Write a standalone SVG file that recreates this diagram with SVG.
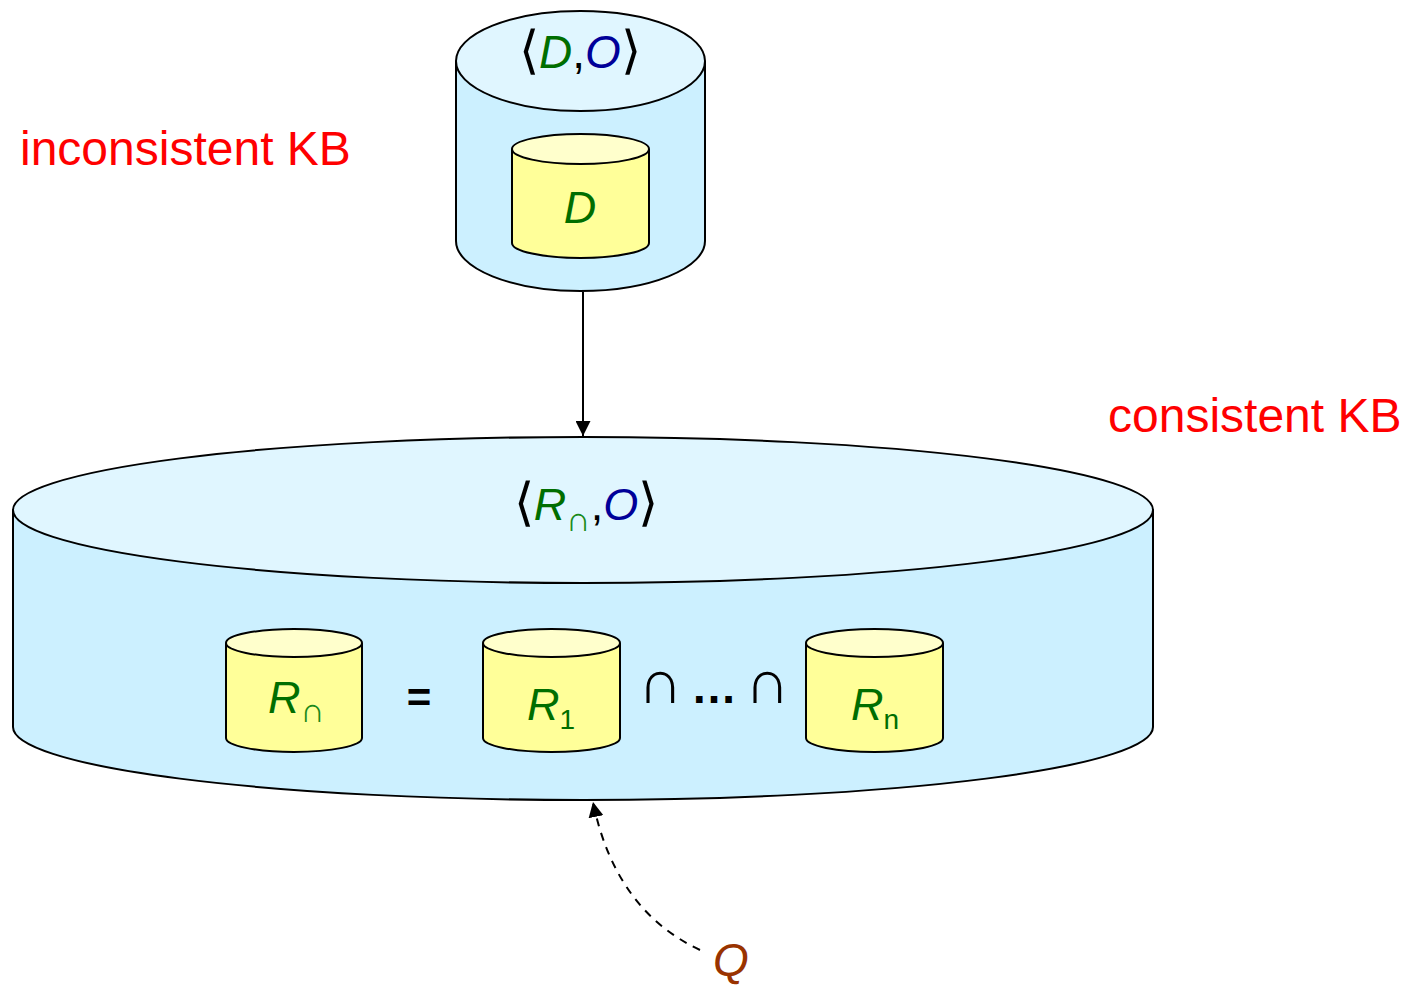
<svg xmlns="http://www.w3.org/2000/svg" width="1416" height="985" viewBox="0 0 1416 985">
<style>
.body{fill:#ccf0ff;stroke:#000;stroke-width:2}
.top{fill:#e0f6ff;stroke:#000;stroke-width:2}
.ybody{fill:#ffff99;stroke:#000;stroke-width:2}
.ytop{fill:#ffffcc;stroke:#000;stroke-width:2}
text{font-family:"Liberation Sans",Arial,sans-serif}
.g{fill:#006e00;font-style:italic}
.b{fill:#000099;font-style:italic}
.k{fill:#000}
.br{fill:#000;font-family:"DejaVu Sans",sans-serif;font-weight:200}
.cap{fill:#000;font-family:"DejaVu Sans",sans-serif;font-weight:200}
.red{fill:#ff0000;font-size:48px}
.sub{fill:#1a8a1a;font-style:normal;font-family:"DejaVu Sans",sans-serif;font-weight:200}
</style>
<defs>
<marker id="ah" viewBox="0 0 10 10" refX="10" refY="5" markerWidth="15" markerHeight="15" markerUnits="userSpaceOnUse" orient="auto">
<path d="M0,0 L10,5 L0,10 z" fill="#000"/>
</marker>
</defs>

<g id="label-inconsistent"><text x="20" y="165" class="red">inconsistent KB</text></g>
<g id="label-consistent"><text x="1108" y="432" class="red">consistent KB</text></g>

<g id="kb-DO">
<path class="body" d="M456,61 L456,241 A124.5,50 0 0 0 705,241 L705,61"/>
<ellipse class="top" cx="580.5" cy="61" rx="124.5" ry="50"/>
<text x="580" y="68" font-size="46" text-anchor="middle"><tspan class="br" font-size="52">⟨</tspan><tspan class="g">D</tspan><tspan class="k">,</tspan><tspan class="b">O</tspan><tspan class="br" font-size="52">⟩</tspan></text>
</g>

<g id="db-D">
<path class="ybody" d="M512,149 L512,243 A68.5,15 0 0 0 649,243 L649,149"/>
<ellipse class="ytop" cx="580.5" cy="149" rx="68.5" ry="15"/>
<text x="580" y="223" font-size="45" text-anchor="middle" class="g">D</text>
</g>

<g id="kb-RO">
<path class="body" d="M13,510 L13,727 A570,73 0 0 0 1153,727 L1153,510"/>
<ellipse class="top" cx="583" cy="510" rx="570" ry="73"/>
<text x="586" y="520" font-size="45" text-anchor="middle"><tspan class="br" font-size="52">⟨</tspan><tspan class="g">R</tspan><tspan class="sub" font-size="34" dy="11">∩</tspan><tspan class="k" dy="-11">,</tspan><tspan class="b">O</tspan><tspan class="br" font-size="52">⟩</tspan></text>
</g>

<g id="db-Rcap">
<path class="ybody" d="M226,643 L226,738 A68,14 0 0 0 362,738 L362,643"/>
<ellipse class="ytop" cx="294" cy="643" rx="68" ry="14"/>
<text x="268" y="713" font-size="45"><tspan class="g">R</tspan><tspan class="sub" font-size="34" dy="9">∩</tspan></text>
</g>

<g id="eq"><text x="419" y="712" font-size="42" font-weight="bold" text-anchor="middle" class="k">=</text></g>

<g id="db-R1">
<path class="ybody" d="M483,643 L483,738 A68.5,14 0 0 0 620,738 L620,643"/>
<ellipse class="ytop" cx="551.5" cy="643" rx="68.5" ry="14"/>
<text x="527" y="720" font-size="45"><tspan class="g">R</tspan><tspan fill="#006e00" font-size="28" dy="9">1</tspan></text>
</g>

<g id="intersect">
<text x="660.5" y="703" font-size="62" text-anchor="middle" class="cap">∩</text>
<text x="714" y="703" font-size="46" font-weight="bold" text-anchor="middle" class="k">…</text>
<text x="767.5" y="703" font-size="62" text-anchor="middle" class="cap">∩</text>
</g>

<g id="db-Rn">
<path class="ybody" d="M806,643 L806,738 A68.5,14 0 0 0 943,738 L943,643"/>
<ellipse class="ytop" cx="874.5" cy="643" rx="68.5" ry="14"/>
<text x="851" y="720" font-size="45"><tspan class="g">R</tspan><tspan fill="#006e00" font-size="28" dy="9">n</tspan></text>
</g>

<g id="query"><text x="713" y="976" font-size="46" fill="#993300" font-style="italic">Q</text></g>

<g id="connectors">
<line x1="583" y1="292" x2="583" y2="436" stroke="#000" stroke-width="2" marker-end="url(#ah)"/>
<path d="M700,950 Q615,910 593,802" fill="none" stroke="#000" stroke-width="2" stroke-dasharray="8,7" marker-end="url(#ah)"/>
</g>
</svg>
